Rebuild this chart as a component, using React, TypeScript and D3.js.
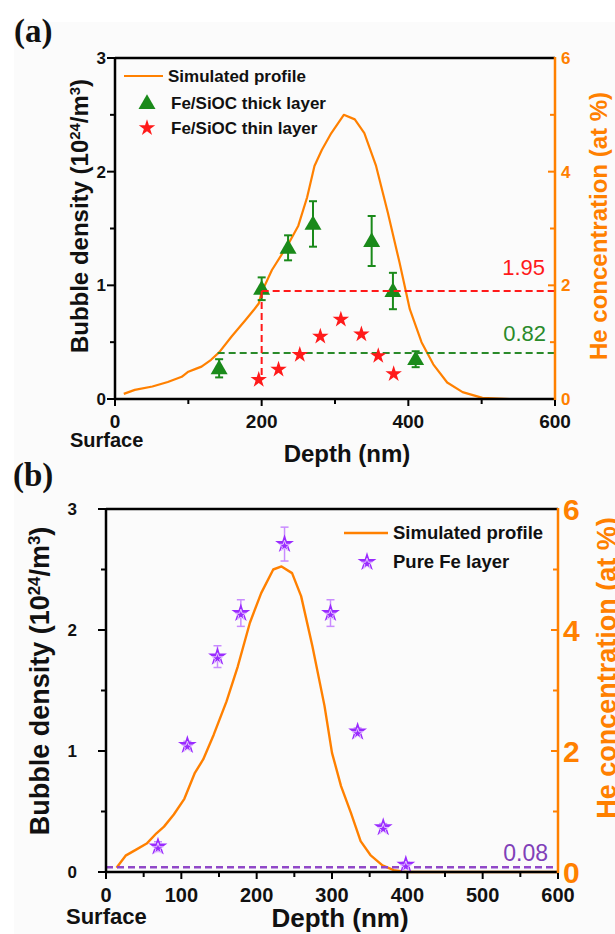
import React from "react";
import * as d3 from "d3";

// ---------- Panel (a) data ----------
const profileADepth = [12, 27, 51, 72, 91, 100, 110, 118, 131, 142, 159, 178, 190, 196, 200, 214, 236, 250, 262, 272, 282, 295, 312, 327, 340, 356, 372, 388, 402, 418, 434, 453, 474, 501, 538, 600];
const profileAHe = [0.09, 0.16, 0.22, 0.3, 0.39, 0.48, 0.53, 0.57, 0.69, 0.82, 1.1, 1.39, 1.58, 1.68, 1.88, 2.27, 2.72, 3.05, 3.55, 4.1, 4.38, 4.68, 5.0, 4.92, 4.68, 4.1, 3.28, 2.4, 1.58, 1.0, 0.61, 0.29, 0.12, 0.02, 0, 0];
const thickDepth = [142, 200, 236, 270, 350, 379, 410];
const thickDensity = [0.27, 0.97, 1.33, 1.54, 1.39, 0.95, 0.35];
const thickErr = [0.08, 0.1, 0.11, 0.2, 0.22, 0.16, 0.07];
const thinDepth = [196, 223, 252, 280, 308, 336, 359, 380];
const thinDensity = [0.17, 0.26, 0.39, 0.55, 0.7, 0.57, 0.38, 0.22];
const redRefDensity = 0.95;
const redRefStartDepth = 200;
const redRefLabel = "1.95";
const greenRefDensity = 0.405;
const greenRefStartDepth = 140;
const greenRefLabel = "0.82";

// ---------- Panel (b) data ----------
const profileBDepth = [14, 26, 40, 54, 67, 77, 90, 104, 118, 129, 143, 160, 175, 191, 206, 222, 233, 247, 259, 274, 290, 300, 312, 325, 338, 351, 367, 382, 398, 600];
const profileBHe = [0.07, 0.27, 0.37, 0.47, 0.64, 0.75, 0.95, 1.21, 1.64, 1.86, 2.27, 2.82, 3.4, 4.12, 4.61, 5.0, 5.05, 4.94, 4.56, 3.73, 2.75, 1.97, 1.42, 0.98, 0.51, 0.28, 0.11, 0.03, 0, 0];
const pureDepth = [69, 108, 148, 179, 237, 298, 334, 368, 398];
const pureDensity = [0.21, 1.05, 1.78, 2.14, 2.71, 2.14, 1.16, 0.37, 0.06];
const pureErr = [0.04, 0.03, 0.09, 0.11, 0.14, 0.11, 0.03, 0.03, 0.02];
const purpleRefDensity = 0.04;
const purpleRefLabel = "0.08";

// ---------- ticks ----------
const xMajorA = [0, 200, 400, 600];
const xMinorA = [100, 300, 500];
const xMajorB = [0, 100, 200, 300, 400, 500, 600];
const xMinorB = [50, 150, 250, 350, 450, 550];
const yMajor = [0, 1, 2, 3];
const yMinor = [0.5, 1.5, 2.5];
const heMajor = [0, 2, 4, 6];
const heMinor = [1, 3, 5];

const SANS = "'Liberation Sans', Arial, Helvetica, sans-serif";
const SERIF = "'Liberation Serif', 'Times New Roman', serif";
const ORANGE = "#ff8000";
const GREEN = "#1a8a1a";
const RED = "#ff1a1a";
const PURPLE = "#9a2bff";

type AxCfg = {
  x: d3.ScaleLinear<number, number>;
  y: d3.ScaleLinear<number, number>;
  he: d3.ScaleLinear<number, number>;
  xMajor: number[];
  xMinor: number[];
  xTickFont: number;
  xTickBaseline: number;
  yTickFont: number;
  yTickEnd: number;
  heTickFont: number;
  heTickStart: number;
};

function Axes({ c }: { c: AxCfg }) {
  const [x0, x1] = c.x.range();
  const [y0, y1] = c.y.range();
  return (
    <g>
      {c.xMajor.map((v) => (
        <line key={"xM" + v} x1={c.x(v)} x2={c.x(v)} y1={y0} y2={y0 + 7} stroke="#000" strokeWidth={2} />
      ))}
      {c.xMinor.map((v) => (
        <line key={"xm" + v} x1={c.x(v)} x2={c.x(v)} y1={y0} y2={y0 + 5} stroke="#000" strokeWidth={2} />
      ))}
      {c.xMajor.map((v) => (
        <text key={"xl" + v} x={c.x(v)} y={c.xTickBaseline} textAnchor="middle" fontFamily={SANS} fontWeight="bold" fontSize={c.xTickFont} fill="#111">
          {v}
        </text>
      ))}
      {yMajor.map((v) => (
        <line key={"yM" + v} x1={x0 - 8} x2={x0} y1={c.y(v)} y2={c.y(v)} stroke="#000" strokeWidth={2} />
      ))}
      {yMinor.map((v) => (
        <line key={"ym" + v} x1={x0 - 5} x2={x0} y1={c.y(v)} y2={c.y(v)} stroke="#000" strokeWidth={2} />
      ))}
      {yMajor.map((v) => (
        <text key={"yl" + v} x={c.yTickEnd} y={c.y(v)} dy="0.36em" textAnchor="end" fontFamily={SANS} fontWeight="bold" fontSize={c.yTickFont} fill="#111">
          {v}
        </text>
      ))}
      {heMajor.map((v) => (
        <line key={"hM" + v} x1={x1 - 7} x2={x1} y1={c.he(v)} y2={c.he(v)} stroke={ORANGE} strokeWidth={2} />
      ))}
      {heMinor.map((v) => (
        <line key={"hm" + v} x1={x1 - 5} x2={x1} y1={c.he(v)} y2={c.he(v)} stroke={ORANGE} strokeWidth={2} />
      ))}
      {heMajor.map((v) => (
        <text key={"hl" + v} x={c.heTickStart} y={c.he(v)} dy="0.36em" textAnchor="start" fontFamily={SANS} fontWeight="bold" fontSize={c.heTickFont} fill={ORANGE}>
          {v}
        </text>
      ))}
      <line x1={x0} x2={x1} y1={y1} y2={y1} stroke="#000" strokeWidth={2.5} />
      <line x1={x0} x2={x1} y1={y0} y2={y0} stroke="#000" strokeWidth={2.5} />
      <line x1={x0} x2={x0} y1={y0 + 1} y2={y1 - 1} stroke="#000" strokeWidth={2.5} />
      <line x1={x1} x2={x1} y1={y0 + 1} y2={y1 - 1} stroke={ORANGE} strokeWidth={2.5} />
    </g>
  );
}

function YLabel({ x, y, size }: { x: number; y: number; size: number }) {
  return (
    <text transform={`translate(${x},${y}) rotate(-90)`} textAnchor="middle" fontFamily={SANS} fontWeight="bold" fontSize={size} fill="#111">
      Bubble density (10<tspan baselineShift="super" fontSize="0.62em">24</tspan>/m<tspan baselineShift="super" fontSize="0.62em">3</tspan>)
    </text>
  );
}

function HeLabel({ x, y, size }: { x: number; y: number; size: number }) {
  return (
    <text transform={`translate(${x},${y}) rotate(-90)`} textAnchor="middle" fontFamily={SANS} fontWeight="bold" fontSize={size} fill={ORANGE}>
      He concentration (at %)
    </text>
  );
}

const starPath = (size: number) => d3.symbol().type(d3.symbolStar).size(size)() as string;
const triPath = (size: number) => d3.symbol().type(d3.symbolTriangle).size(size)() as string;

export default function App() {
  const xA = d3.scaleLinear().domain([0, 600]).range([115, 555]);
  const yA = d3.scaleLinear().domain([0, 3]).range([399, 58]);
  const heA = d3.scaleLinear().domain([0, 6]).range([399, 58]);
  const xB = d3.scaleLinear().domain([0, 600]).range([106, 558]);
  const yB = d3.scaleLinear().domain([0, 3]).range([872, 509]);
  const heB = d3.scaleLinear().domain([0, 6]).range([872, 509]);

  const lineA = d3
    .line<number>()
    .x((_, i) => xA(profileADepth[i]))
    .y((d) => heA(d))(profileAHe) as string;
  const lineB = d3
    .line<number>()
    .x((_, i) => xB(profileBDepth[i]))
    .y((d) => heB(d))(profileBHe) as string;

  const star = starPath(84);
  const tri = triPath(125);
  const starB = starPath(110);
  const starBInner = starPath(38);

  return (
    <svg width={615} height={934} viewBox="0 0 615 934" style={{ position: "absolute", left: 0, top: 0, background: "#fff" }}>
      <rect x={0} y={0} width={615} height={934} fill="#ffffff" />
      <rect x={14} y={22} width={601} height={912} fill="#fbfbfb" />

      {/* ================= Panel (a) ================= */}
      <text x={14} y={42} fontFamily={SERIF} fontWeight="bold" fontSize={33} fill="#111">(a)</text>
      <path d={lineA} fill="none" stroke={ORANGE} strokeWidth={2.2} strokeLinejoin="round" />

      {thickDepth.map((d, i) => {
        const cx = xA(d);
        const top = yA(thickDensity[i] + thickErr[i]);
        const bot = yA(thickDensity[i] - thickErr[i]);
        return (
          <g key={"te" + i} stroke={GREEN} strokeWidth={2}>
            <line x1={cx} x2={cx} y1={top} y2={bot} />
            <line x1={cx - 4} x2={cx + 4} y1={top} y2={top} />
            <line x1={cx - 4} x2={cx + 4} y1={bot} y2={bot} />
          </g>
        );
      })}
      {thickDepth.map((d, i) => (
        <path key={"tt" + i} d={tri} transform={`translate(${xA(d)},${yA(thickDensity[i]) + 1})`} fill={GREEN} />
      ))}

      <line x1={xA(greenRefStartDepth)} x2={xA(600)} y1={yA(greenRefDensity)} y2={yA(greenRefDensity)} stroke="#2a8a2a" strokeWidth={2} strokeDasharray="7,4" />
      <line x1={xA(redRefStartDepth)} x2={xA(600)} y1={yA(redRefDensity)} y2={yA(redRefDensity)} stroke={RED} strokeWidth={2} strokeDasharray="7,4" />
      <line x1={xA(redRefStartDepth)} x2={xA(redRefStartDepth)} y1={yA(redRefDensity)} y2={yA(thinDensity[0])} stroke={RED} strokeWidth={2} strokeDasharray="7,4" />

      {thinDepth.map((d, i) => (
        <path key={"ts" + i} d={star} transform={`translate(${xA(d)},${yA(thinDensity[i])})`} fill={RED} />
      ))}

      <text x={545} y={275} textAnchor="end" fontFamily={SANS} fontSize={22} fill={RED}>{redRefLabel}</text>
      <text x={546} y={341} textAnchor="end" fontFamily={SANS} fontSize={22} fill="#2a8a2a">{greenRefLabel}</text>

      <Axes
        c={{
          x: xA, y: yA, he: heA,
          xMajor: xMajorA, xMinor: xMinorA,
          xTickFont: 19, xTickBaseline: 428,
          yTickFont: 17, yTickEnd: 106,
          heTickFont: 17, heTickStart: 561,
        }}
      />

      <line x1={124} x2={163} y1={76} y2={76} stroke={ORANGE} strokeWidth={2.2} />
      <text x={168} y={82} fontFamily={SANS} fontWeight="bold" fontSize={17} fill="#111">Simulated profile</text>
      <path d={tri} transform={`translate(147,104)`} fill={GREEN} />
      <text x={171} y={109} fontFamily={SANS} fontWeight="bold" fontSize={17} fill="#111">Fe/SiOC thick layer</text>
      <path d={star} transform={`translate(147,128)`} fill={RED} />
      <text x={171} y={134} fontFamily={SANS} fontWeight="bold" fontSize={17} fill="#111">Fe/SiOC thin layer</text>

      <YLabel x={88} y={216} size={24} />
      <HeLabel x={607} y={226} size={24} />
      <text x={70} y={447} fontFamily={SANS} fontWeight="bold" fontSize={20} fill="#111">Surface</text>
      <text x={347} y={462} textAnchor="middle" fontFamily={SANS} fontWeight="bold" fontSize={24} fill="#111">Depth (nm)</text>

      {/* ================= Panel (b) ================= */}
      <text x={13} y={486} fontFamily={SERIF} fontWeight="bold" fontSize={33} fill="#111">(b)</text>
      <path d={lineB} fill="none" stroke={ORANGE} strokeWidth={2.4} strokeLinejoin="round" />

      <line x1={xB(0)} x2={xB(600)} y1={yB(purpleRefDensity)} y2={yB(purpleRefDensity)} stroke="#9048c8" strokeWidth={2.5} strokeDasharray="7,4" />

      {pureDepth.map((d, i) => {
        const cx = xB(d);
        const top = yB(pureDensity[i] + pureErr[i]);
        const bot = yB(pureDensity[i] - pureErr[i]);
        return (
          <g key={"pe" + i} stroke="#c98cff" strokeWidth={1.5}>
            <line x1={cx} x2={cx} y1={top} y2={bot} />
            <line x1={cx - 4} x2={cx + 4} y1={top} y2={top} />
            <line x1={cx - 4} x2={cx + 4} y1={bot} y2={bot} />
          </g>
        );
      })}
      {pureDepth.map((d, i) => (
        <g key={"ps" + i} transform={`translate(${xB(d)},${yB(pureDensity[i])})`}>
          <path d={starB} fill={PURPLE} />
          <path d={starBInner} transform="translate(0,2)" fill="none" stroke="#e6c8ff" strokeWidth={1} />
        </g>
      ))}

      <text x={548} y={861} textAnchor="end" fontFamily={SANS} fontSize={23} fill="#8040b8">{purpleRefLabel}</text>

      <Axes
        c={{
          x: xB, y: yB, he: heB,
          xMajor: xMajorB, xMinor: xMinorB,
          xTickFont: 20, xTickBaseline: 902,
          yTickFont: 17, yTickEnd: 77,
          heTickFont: 30, heTickStart: 563,
        }}
      />

      <line x1={344} x2={388} y1={533} y2={533} stroke={ORANGE} strokeWidth={2.4} />
      <text x={393} y={539} fontFamily={SANS} fontWeight="bold" fontSize={18.5} fill="#111">Simulated profile</text>
      <g transform="translate(367,562)">
        <path d={starB} fill={PURPLE} />
        <path d={starBInner} transform="translate(0,2)" fill="none" stroke="#e6c8ff" strokeWidth={1} />
      </g>
      <text x={393} y={568} fontFamily={SANS} fontWeight="bold" fontSize={18.5} fill="#111">Pure Fe layer</text>

      <YLabel x={49} y={681} size={27} />
      <HeLabel x={616} y={668} size={27} />
      <text x={66} y={924} fontFamily={SANS} fontWeight="bold" fontSize={22} fill="#111">Surface</text>
      <text x={340} y={927} textAnchor="middle" fontFamily={SANS} fontWeight="bold" fontSize={26} fill="#111">Depth (nm)</text>
    </svg>
  );
}
